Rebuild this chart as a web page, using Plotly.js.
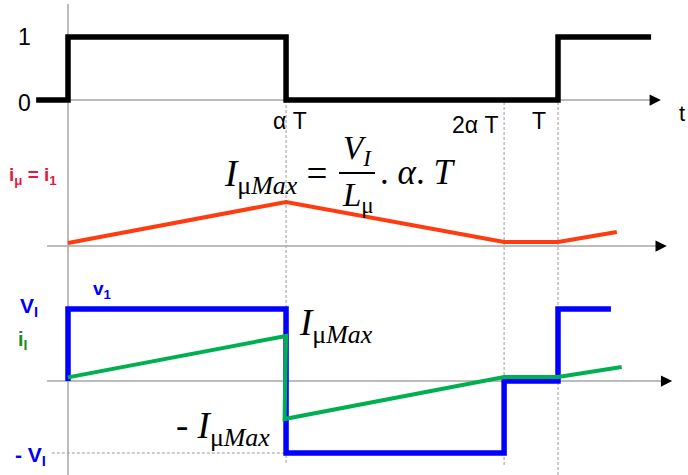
<!DOCTYPE html>
<html>
<head>
<meta charset="utf-8">
<script src="https://cdn.plot.ly/plotly-3.0.1.min.js"></script>
<style>body{margin:0;background:#fff}#chart{width:688px;height:475px}</style>
</head>
<body>
<div id="chart"></div>
<script>
var ALPHA = 0.445

// gate signal (panel 1)
var t_gate = [-0.065, 0, 0, ALPHA, ALPHA, 1, 1, 1.19]
var gate = [0, 0, 1, 1, 0, 0, 1, 1]

// magnetising current i_mu (panel 2), in units of I_muMax
var t_imu = [0, ALPHA, 2 * ALPHA, 1, 1.12]
var imu = [0.07, 1, 0.09, 0.09, 0.32]

// primary voltage v1 (panel 3), in units of V_I
var t_v1 = [0, 0, ALPHA, ALPHA, 2 * ALPHA, 2 * ALPHA, 1, 1, 1.108]
var v1 = [0, 1, 1, -1, -1, 0, 0, 1, 1]

// input current i_I (panel 3)
var t_ii = [0, ALPHA, ALPHA - 0.003, 2 * ALPHA, 1, 1.13]
var ii = [0.05, 0.625, -0.528, 0.055, 0.055, 0.194]

var time_ticks = [ALPHA, 2 * ALPHA, 1]
var time_labels = ['α T', '2α T', 'T']
var gate_ticks = [0, 1]
var gate_labels = ['0', '1']

var W = 688, H = 475
function px(x) { return x / W }
function py(y) { return 1 - y / H }

var SANS = 'Liberation Sans, Arial, sans-serif'
var SERIF = 'Liberation Serif, Times New Roman, serif'
var AXIS_GREY = '#a6a6a6'
var DASH_GREY = '#9a9a9a'

function line_trace(x, y, yaxis, color, width) {
    return {
        type: 'scatter', mode: 'lines', x: x, y: y, yaxis: yaxis,
        line: { color: color, width: width, shape: 'linear' },
        hoverinfo: 'skip'
    }
}

var data = [
    line_trace(t_gate, gate, 'y', '#000000', 5.5),
    line_trace(t_imu, imu, 'y2', '#ff3b0f', 4),
    line_trace(t_v1, v1, 'y3', '#0000ff', 5.5),
    line_trace(t_ii, ii, 'y3', '#00b050', 4)
]

function hidden_axis(extra) {
    var ax = { visible: false, showgrid: false, zeroline: false, fixedrange: true }
    for (var k in extra) ax[k] = extra[k]
    return ax
}

var shapes = [
    // vertical axis
    { type: 'line', xref: 'x', yref: 'paper', x0: 0, x1: 0, y0: 0, y1: py(4), line: { color: AXIS_GREY, width: 1.5 }, layer: 'below' },
    // horizontal axes
    { type: 'line', xref: 'x', yref: 'y', x0: 0, x1: 1.2, y0: 0, y1: 0, line: { color: AXIS_GREY, width: 1.5 }, layer: 'below' },
    { type: 'line', xref: 'x', yref: 'y2', x0: -0.043, x1: 1.21, y0: 0, y1: 0, line: { color: AXIS_GREY, width: 1.5 }, layer: 'below' },
    { type: 'line', xref: 'x', yref: 'y3', x0: -0.043, x1: 1.22, y0: 0, y1: 0, line: { color: AXIS_GREY, width: 1.5 }, layer: 'below' },
    // dashed time markers
    { type: 'line', xref: 'x', yref: 'paper', x0: ALPHA, x1: ALPHA, y0: py(463), y1: py(100), line: { color: DASH_GREY, width: 1, dash: '3px,2px' }, layer: 'below' },
    { type: 'line', xref: 'x', yref: 'paper', x0: 2 * ALPHA, x1: 2 * ALPHA, y0: py(465), y1: py(102), line: { color: DASH_GREY, width: 1, dash: '3px,2px' }, layer: 'below' },
    { type: 'line', xref: 'x', yref: 'paper', x0: 1, x1: 1, y0: 0, y1: py(100), line: { color: DASH_GREY, width: 1, dash: '3px,2px' }, layer: 'below' },
    // -V_I level
    { type: 'line', xref: 'x', yref: 'y3', x0: -0.033, x1: ALPHA, y0: -1, y1: -1, line: { color: DASH_GREY, width: 1, dash: '3px,2px' }, layer: 'below' },
    // fraction bar of the formula
    { type: 'line', xref: 'paper', yref: 'paper', x0: px(339), x1: px(375), y0: py(173), y1: py(173), line: { color: '#000000', width: 1.8 } }
]

function arrow(x, y, xref, yref, ax, ay) {
    return {
        x: x, y: y, xref: xref, yref: yref, ax: ax, ay: ay, text: '',
        showarrow: true, arrowhead: 2, arrowsize: 1.5, arrowwidth: 1.5, arrowcolor: '#000000'
    }
}

function label(text, x, y, size, color, family, xanchor) {
    return {
        text: text, x: px(x), y: py(y), xref: 'paper', yref: 'paper',
        xanchor: xanchor || 'center', yanchor: 'middle', showarrow: false,
        font: { size: size, color: color, family: family }
    }
}

var annotations = [
    arrow(1.21, 0, 'x', 'y', -6, 0),
    arrow(1.222, 0, 'x', 'y2', -6, 0),
    arrow(1.233, 0, 'x', 'y3', -6, 0),
    arrow(0, py(-5), 'x', 'paper', 0, 6),
    label('t', 687, 113, 22, '#000000', SANS, 'right'),

    label('<b>i<sub>μ</sub> = i<sub>1</sub></b>', 33, 176, 19, '#e8173f', SANS),
    label('<b>V<sub>I</sub></b>', 29, 307, 21, '#0000ff', SANS),
    label('<b>v<sub>1</sub></b>', 103, 290, 19, '#0000ff', SANS),
    label('<b>i<sub>I</sub></b>', 23, 340, 20, '#1f8a1f', SANS),
    label('<b>- V<sub>I</sub></b>', 31, 456, 21, '#0000ff', SANS),

    label('<i>I</i><sub>μ<i>Max</i></sub> =', 329, 176, 37, '#000000', SERIF, 'right'),
    label('<i>V<sub>I</sub></i>', 357, 151, 33, '#000000', SERIF),
    label('<i>L</i><sub>μ</sub>', 358, 197, 33, '#000000', SERIF),
    label('. <i>α</i>. <i>T</i>', 378, 172, 35, '#000000', SERIF, 'left'),
    label('<i>I</i><sub>μ<i>Max</i></sub>', 297, 325, 37, '#000000', SERIF, 'left'),
    label('- <i>I</i><sub>μ<i>Max</i></sub>', 174, 428, 37, '#000000', SERIF, 'left')
]

time_ticks.forEach(function (t, i) {
    var a = {
        text: time_labels[i], x: t, y: -0.34, xref: 'x', yref: 'y',
        showarrow: false, yanchor: 'middle', font: { size: 23, color: '#000000', family: SANS }
    }
    if (i === 0) { a.xanchor = 'center'; a.xshift = 4 }
    else if (i === 1) { a.xanchor = 'right'; a.xshift = -3; a.y = -0.4 }
    else { a.xanchor = 'right'; a.xshift = -10 }
    annotations.push(a)
})

gate_ticks.forEach(function (g, i) {
    annotations.push({
        text: gate_labels[i], x: -0.088, y: g, xref: 'x', yref: 'y',
        showarrow: false, xanchor: 'center', yanchor: 'middle', yshift: g === 0 ? -3 : 0,
        font: { size: 23, color: '#000000', family: SANS }
    })
})

var layout = {
    width: W, height: H,
    margin: { l: 0, r: 0, t: 0, b: 0 },
    paper_bgcolor: '#ffffff', plot_bgcolor: '#ffffff',
    showlegend: false,
    xaxis: hidden_axis({ range: [-68 / 490, 620 / 490] }),
    yaxis: hidden_axis({ domain: [py(130), 1], range: [-30 / 63, 100 / 63], anchor: 'x' }),
    yaxis2: hidden_axis({ domain: [py(260), py(130)], range: [-14 / 44, 116 / 44], anchor: 'x' }),
    yaxis3: hidden_axis({ domain: [0, py(260)], range: [-94 / 72, 121 / 72], anchor: 'x' }),
    shapes: shapes,
    annotations: annotations
}

Plotly.newPlot('chart', data, layout, { displayModeBar: false, staticPlot: true })
</script>
</body>
</html>
